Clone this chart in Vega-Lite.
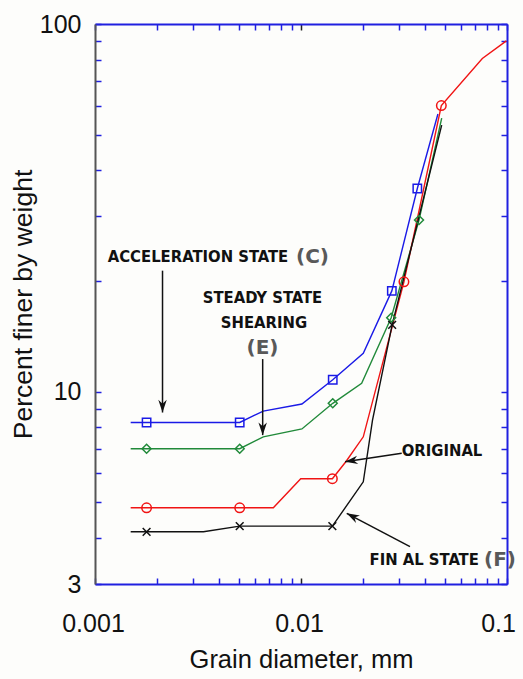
{
  "$schema": "https://vega.github.io/schema/vega-lite/v6.json",
  "width": 412,
  "height": 560,
  "autosize": "none",
  "padding": {"left": 95, "top": 24, "right": 16, "bottom": 95},
  "background": "#fdfdfb",
  "config": {
    "view": {"stroke": null},
    "axis": {
      "grid": false,
      "labelFont": "Liberation Sans",
      "labelFontSize": 25,
      "labelColor": "#111111",
      "titleFont": "Liberation Sans",
      "titleFontWeight": "normal",
      "titleColor": "#111111",
      "domainWidth": 2,
      "domainColor": "#2020e0",
      "tickColor": "#2020e0",
      "tickWidth": 1.5,
      "tickSize": -6,
      "labelOverlap": false,
      "labelFlush": false,
      "labelBound": false
    }
  },
  "datasets": {
    "curves": [
      {"series": "C", "d": 0.00149, "p": 8.25},
      {"series": "C", "d": 0.00178, "p": 8.25},
      {"series": "C", "d": 0.00504, "p": 8.25},
      {"series": "C", "d": 0.00656, "p": 8.86},
      {"series": "C", "d": 0.0101, "p": 9.26},
      {"series": "C", "d": 0.01426, "p": 10.78},
      {"series": "C", "d": 0.02006, "p": 12.72},
      {"series": "C", "d": 0.0276, "p": 18.8},
      {"series": "C", "d": 0.0367, "p": 35.7},
      {"series": "C", "d": 0.0462, "p": 56.9},
      {"series": "E", "d": 0.00149, "p": 7.0},
      {"series": "E", "d": 0.00178, "p": 7.0},
      {"series": "E", "d": 0.00504, "p": 7.0},
      {"series": "E", "d": 0.00656, "p": 7.54},
      {"series": "E", "d": 0.0101, "p": 7.92},
      {"series": "E", "d": 0.01426, "p": 9.3},
      {"series": "E", "d": 0.0197, "p": 10.54},
      {"series": "E", "d": 0.0274, "p": 15.9},
      {"series": "E", "d": 0.0374, "p": 29.3},
      {"series": "E", "d": 0.0482, "p": 55.5},
      {"series": "O", "d": 0.00149, "p": 4.835},
      {"series": "O", "d": 0.00178, "p": 4.835},
      {"series": "O", "d": 0.00504, "p": 4.835},
      {"series": "O", "d": 0.00734, "p": 4.835},
      {"series": "O", "d": 0.00997, "p": 5.8},
      {"series": "O", "d": 0.0142, "p": 5.8},
      {"series": "O", "d": 0.01654, "p": 6.46},
      {"series": "O", "d": 0.02006, "p": 7.54},
      {"series": "O", "d": 0.0316, "p": 19.9},
      {"series": "O", "d": 0.048, "p": 60},
      {"series": "O", "d": 0.0759, "p": 80.6},
      {"series": "O", "d": 0.0993, "p": 90},
      {"series": "F", "d": 0.00149, "p": 4.16},
      {"series": "F", "d": 0.00178, "p": 4.16},
      {"series": "F", "d": 0.00336, "p": 4.16},
      {"series": "F", "d": 0.00504, "p": 4.31},
      {"series": "F", "d": 0.0142, "p": 4.31},
      {"series": "F", "d": 0.02006, "p": 5.69},
      {"series": "F", "d": 0.02224, "p": 8.37},
      {"series": "F", "d": 0.0277, "p": 15.2},
      {"series": "F", "d": 0.0482, "p": 53.1}
    ],
    "samples": [
      {"series": "C", "d": 0.00178, "p": 8.25},
      {"series": "C", "d": 0.00504, "p": 8.25},
      {"series": "C", "d": 0.01426, "p": 10.78},
      {"series": "C", "d": 0.0276, "p": 18.8},
      {"series": "C", "d": 0.0367, "p": 35.7},
      {"series": "E", "d": 0.00178, "p": 7.0},
      {"series": "E", "d": 0.00504, "p": 7.0},
      {"series": "E", "d": 0.01426, "p": 9.3},
      {"series": "E", "d": 0.0274, "p": 15.9},
      {"series": "E", "d": 0.0374, "p": 29.3},
      {"series": "O", "d": 0.00178, "p": 4.835},
      {"series": "O", "d": 0.00504, "p": 4.835},
      {"series": "O", "d": 0.0142, "p": 5.8},
      {"series": "O", "d": 0.0316, "p": 19.9},
      {"series": "O", "d": 0.048, "p": 60},
      {"series": "F", "d": 0.00178, "p": 4.16},
      {"series": "F", "d": 0.00504, "p": 4.31},
      {"series": "F", "d": 0.0142, "p": 4.31},
      {"series": "F", "d": 0.0277, "p": 15.2}
    ],
    "arrows": [
      {"name": "C", "d": 0.002127, "p": 21.34, "d2": 0.002127, "p2": 8.78},
      {"name": "E", "d": 0.006516, "p": 12.27, "d2": 0.006516, "p2": 7.62},
      {"name": "O", "d": 0.03083, "p": 6.8, "d2": 0.01636, "p2": 6.45},
      {"name": "F", "d": 0.03381, "p": 3.789, "d2": 0.01667, "p2": 4.67}
    ],
    "labels": [
      {"kind": "main", "text": "ACCELERATION STATE", "d": 0.003162, "p": 23.29},
      {"kind": "tag", "text": "(C)", "d": 0.01137, "p": 23.29},
      {"kind": "main", "text": "STEADY STATE", "d": 0.006501, "p": 17.95},
      {"kind": "main", "text": "SHEARING", "d": 0.006613, "p": 15.35},
      {"kind": "tag", "text": "(E)", "d": 0.006501, "p": 13.12},
      {"kind": "main", "text": "ORIGINAL", "d": 0.04836, "p": 6.91},
      {"kind": "main", "text": "FIN AL STATE", "d": 0.03963, "p": 3.485},
      {"kind": "tag", "text": "(F)", "d": 0.09247, "p": 3.485}
    ]
  },
  "layer": [
    {
      "mark": {"type": "rule", "color": "#222222", "strokeWidth": 1.3, "strokeDash": [2, 3]},
      "encoding": {
        "x": {
          "datum": 0.01, "type": "quantitative",
          "scale": {"type": "log", "domain": [0.001, 0.1], "nice": false},
          "axis": {
            "orient": "bottom",
            "values": [0.001, 0.002, 0.003, 0.004, 0.005, 0.006, 0.007, 0.008, 0.009, 0.01, 0.02, 0.03, 0.04, 0.05, 0.06, 0.07, 0.08, 0.09, 0.1],
            "format": "~g",
            "labelExpr": "datum.value == 0.001 || datum.value == 0.01 || datum.value == 0.1 ? datum.label : ''",
            "labelOffset": {"condition": {"test": "datum.value == 0.1", "value": -9}, "value": -2},
            "tickColor": {"condition": {"test": "datum.value == 0.01", "value": "#222222"}, "value": "#2020e0"},
            "labelPadding": 33,
            "title": "Grain diameter, mm",
            "titleFontSize": 25.5,
            "titlePadding": 11
          }
        }
      }
    },
    {
      "mark": {"type": "rule", "color": "#2020e0", "strokeWidth": 1.3, "strokeDash": [2, 3]},
      "encoding": {
        "y": {
          "datum": 10, "type": "quantitative",
          "scale": {"type": "log", "domain": [3, 100], "nice": false},
          "axis": {
            "orient": "left",
            "values": [3, 4, 5, 6, 7, 8, 9, 10, 20, 30, 40, 50, 60, 70, 80, 90, 100],
            "format": "d",
            "labelExpr": "datum.value == 3 || datum.value == 10 || datum.value == 100 ? datum.label : ''",
            "domainColor": "#555555",
            "labelPadding": 20,
            "title": "Percent finer by weight",
            "titleFontSize": 26.5,
            "titlePadding": 2
          }
        }
      }
    },
    {
      "data": {"name": "curves"},
      "mark": {"type": "line", "strokeWidth": 1.4},
      "encoding": {
        "x": {
          "field": "d", "type": "quantitative",
          "scale": {"type": "log", "domain": [0.001, 0.1], "nice": false},
          "axis": {
            "orient": "top",
            "values": [0.001, 0.002, 0.003, 0.004, 0.005, 0.006, 0.007, 0.008, 0.009, 0.01, 0.02, 0.03, 0.04, 0.05, 0.06, 0.07, 0.08, 0.09, 0.1],
            "labels": false,
            "tickColor": {"condition": {"test": "datum.value == 0.01", "value": "#222222"}, "value": "#2020e0"},
            "title": null
          }
        },
        "y": {
          "field": "p", "type": "quantitative",
          "scale": {"type": "log", "domain": [3, 100], "nice": false},
          "axis": {
            "orient": "right",
            "values": [3, 4, 5, 6, 7, 8, 9, 10, 20, 30, 40, 50, 60, 70, 80, 90, 100],
            "labels": false,
            "title": null
          }
        },
        "color": {
          "field": "series", "type": "nominal",
          "scale": {"domain": ["O", "E", "C", "F"], "range": ["#f01414", "#218a3a", "#1a1ae6", "#111111"]},
          "legend": null
        },
        "order": {"field": "d", "type": "quantitative"}
      }
    },
    {
      "data": {"name": "samples"},
      "mark": {"type": "point", "filled": false, "strokeWidth": 1.5, "opacity": 1},
      "encoding": {
        "x": {"field": "d", "type": "quantitative", "scale": {"type": "log", "domain": [0.001, 0.1], "nice": false}, "axis": null},
        "y": {"field": "p", "type": "quantitative", "scale": {"type": "log", "domain": [3, 100], "nice": false}, "axis": null},
        "color": {"field": "series", "type": "nominal", "legend": null},
        "shape": {
          "field": "series", "type": "nominal",
          "scale": {"domain": ["O", "E", "C", "F"], "range": ["circle", "diamond", "square", "M-1,-1L1,1M-1,1L1,-1"]},
          "legend": null
        },
        "size": {
          "field": "series", "type": "nominal",
          "scale": {"domain": ["O", "E", "C", "F"], "range": [90, 60, 105, 95]},
          "legend": null
        }
      }
    },
    {
      "data": {"name": "arrows"},
      "mark": {"type": "rule", "color": "#111111", "strokeWidth": 1.5},
      "encoding": {
        "x": {"field": "d", "type": "quantitative", "scale": {"type": "log", "domain": [0.001, 0.1], "nice": false}, "axis": null},
        "y": {"field": "p", "type": "quantitative", "scale": {"type": "log", "domain": [3, 100], "nice": false}, "axis": null},
        "x2": {"field": "d2"},
        "y2": {"field": "p2"}
      }
    },
    {
      "data": {"name": "arrows"},
      "transform": [{"filter": "datum.name == 'C' || datum.name == 'E'"}],
      "mark": {"type": "point", "filled": true, "color": "#111111", "opacity": 1, "shape": "M0,0L0.6,-1.8L0,-1.25L-0.6,-1.8Z", "size": 200},
      "encoding": {
        "x": {"field": "d2", "type": "quantitative", "scale": {"type": "log", "domain": [0.001, 0.1], "nice": false}, "axis": null},
        "y": {"field": "p2", "type": "quantitative", "scale": {"type": "log", "domain": [3, 100], "nice": false}, "axis": null}
      }
    },
    {
      "data": {"name": "arrows"},
      "transform": [{"filter": "datum.name == 'O'"}],
      "mark": {"type": "point", "filled": true, "color": "#111111", "opacity": 1, "shape": "M0,0L0.6,1.8L0,1.25L-0.6,1.8Z", "size": 200, "angle": 261.5},
      "encoding": {
        "x": {"field": "d2", "type": "quantitative", "scale": {"type": "log", "domain": [0.001, 0.1], "nice": false}, "axis": null},
        "y": {"field": "p2", "type": "quantitative", "scale": {"type": "log", "domain": [3, 100], "nice": false}, "axis": null}
      }
    },
    {
      "data": {"name": "arrows"},
      "transform": [{"filter": "datum.name == 'F'"}],
      "mark": {"type": "point", "filled": true, "color": "#111111", "opacity": 1, "shape": "M0,0L0.6,1.8L0,1.25L-0.6,1.8Z", "size": 200, "angle": 297.8},
      "encoding": {
        "x": {"field": "d2", "type": "quantitative", "scale": {"type": "log", "domain": [0.001, 0.1], "nice": false}, "axis": null},
        "y": {"field": "p2", "type": "quantitative", "scale": {"type": "log", "domain": [3, 100], "nice": false}, "axis": null}
      }
    },
    {
      "data": {"name": "labels"},
      "transform": [{"filter": "datum.kind == 'main'"}],
      "mark": {"type": "text", "font": "DejaVu Sans Condensed", "fontWeight": "bold", "fontSize": 16.5, "color": "#111111", "align": "center", "baseline": "middle"},
      "encoding": {
        "x": {"field": "d", "type": "quantitative", "scale": {"type": "log", "domain": [0.001, 0.1], "nice": false}, "axis": null},
        "y": {"field": "p", "type": "quantitative", "scale": {"type": "log", "domain": [3, 100], "nice": false}, "axis": null},
        "text": {"field": "text"}
      }
    },
    {
      "data": {"name": "labels"},
      "transform": [{"filter": "datum.kind == 'tag'"}],
      "mark": {"type": "text", "font": "DejaVu Sans", "fontWeight": "bold", "fontSize": 20, "color": "#595959", "align": "center", "baseline": "middle"},
      "encoding": {
        "x": {"field": "d", "type": "quantitative", "scale": {"type": "log", "domain": [0.001, 0.1], "nice": false}, "axis": null},
        "y": {"field": "p", "type": "quantitative", "scale": {"type": "log", "domain": [3, 100], "nice": false}, "axis": null},
        "text": {"field": "text"}
      }
    }
  ]
}
